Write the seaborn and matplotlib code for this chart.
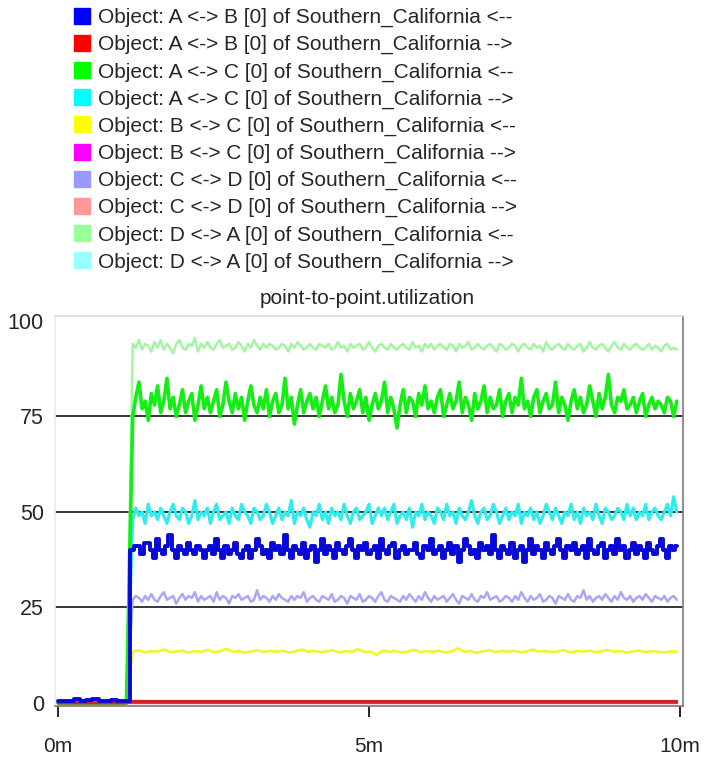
import numpy as np
import pandas as pd
import matplotlib
matplotlib.use("Agg")
import matplotlib.pyplot as plt
import seaborn as sns
from matplotlib.lines import Line2D
from matplotlib import font_manager

sns.set_theme(style="white")
avail = {f.name for f in font_manager.fontManager.ttflist}
FONT = "Liberation Sans" if "Liberation Sans" in avail else "DejaVu Sans"
plt.rcParams["font.family"] = [FONT, "DejaVu Sans"]

# ---------------- data ----------------
labels = [
    "Object: A <-> B [0] of Southern_California <--",
    "Object: A <-> B [0] of Southern_California -->",
    "Object: A <-> C [0] of Southern_California <--",
    "Object: A <-> C [0] of Southern_California -->",
    "Object: B <-> C [0] of Southern_California <--",
    "Object: B <-> C [0] of Southern_California -->",
    "Object: C <-> D [0] of Southern_California <--",
    "Object: C <-> D [0] of Southern_California -->",
    "Object: D <-> A [0] of Southern_California <--",
    "Object: D <-> A [0] of Southern_California -->",
]
colors = ["#0000ff", "#ff0000", "#00ff00", "#00ffff", "#ffff00",
          "#ff00ff", "#9999ff", "#ff9999", "#99ff99", "#99ffff"]
line_colors = ["#0808d8", "#d42020", "#14ee14", "#30ecec", "#f4f420",
               "#ff00ff", "#a8a8f4", "#ff9999", "#a4f4a4", "#99ffff"]

t_start = 1.2     # minutes, traffic begins
t_end = 9.95

blue_pre = [0.5, 0.6, 0.5, 1.0, 0.5, 0.7, 1.0, 0.5, 0.6, 0.9, 0.5, 0.5]
blue_post = [
    40, 41, 41, 39, 42, 42, 40, 38, 43, 40, 39, 41, 44, 40, 38, 41, 40, 39, 42, 40,
    39, 41, 40, 38, 40, 41, 39, 43, 40, 38, 41, 39, 40, 42, 39, 38, 40, 41, 38, 40,
    43, 41, 39, 40, 38, 42, 40, 41, 39, 44, 40, 38, 41, 40, 39, 42, 38, 40, 41, 37,
    40, 43, 39, 41, 40, 38, 42, 40, 39, 41, 43, 40, 38, 41, 40, 42, 39, 40, 41, 38,
    43, 40, 39, 41, 42, 38, 40, 41, 39, 40, 40, 42, 39, 38, 41, 40, 43, 39, 40, 41,
    38, 40, 42, 39, 41, 37, 40, 43, 41, 39, 40, 38, 42, 40, 41, 39, 44, 40, 38, 41,
    40, 39, 42, 38, 40, 41, 37, 40, 43, 39, 41, 40, 38, 42, 40, 39, 41, 43, 40, 38,
    41, 40, 42, 39, 40, 41, 38, 43, 40, 39, 41, 42, 38, 40, 41, 39, 43, 40, 41, 38,
    40, 42, 39, 41, 40, 38, 42, 40, 39, 41, 43, 40, 38, 41, 40, 41]
red_post = [0.4, 0.4]
green_post = [
    75, 80, 84, 77, 79, 74, 81, 78, 83, 76, 79, 85, 77, 80, 75, 78, 82, 76, 79, 81,
    74, 78, 83, 77, 80, 76, 79, 82, 75, 78, 84, 79, 76, 81, 77, 80, 74, 79, 83, 78,
    76, 80, 77, 82, 75, 79, 81, 76, 78, 85, 77, 80, 73, 78, 82, 76, 79, 81, 77, 80,
    75, 79, 83, 77, 80, 76, 78, 86, 79, 75, 81, 77, 79, 82, 76, 80, 74, 78, 81, 77,
    79, 84, 76, 80, 77, 72, 78, 82, 76, 80, 79, 75, 81, 78, 83, 77, 79, 76, 80, 82,
    75, 78, 81, 77, 79, 84, 76, 80, 78, 74, 81, 77, 79, 83, 76, 80, 77, 78, 82, 75,
    79, 81, 76, 80, 78, 85, 77, 79, 75, 80, 82, 76, 79, 81, 77, 78, 84, 76, 80, 78,
    74, 79, 82, 77, 80, 76, 78, 83, 79, 75, 81, 77, 80, 86, 78, 76, 80, 79, 82, 77,
    78, 80, 76, 79, 81, 75, 78, 80, 77, 79, 78, 76, 80, 79, 75, 79]
cyan_post = [
    48, 51, 49, 50, 47, 52, 49, 50, 48, 51, 49, 47, 50, 52, 49, 48, 51, 50, 47, 49,
    53, 48, 50, 49, 51, 47, 50, 52, 48, 49, 50, 47, 51, 49, 48, 52, 50, 49, 47, 51,
    50, 48, 49, 52, 50, 47, 49, 51, 48, 50, 49, 53, 47, 50, 49, 51, 48, 46, 50, 49,
    52, 48, 50, 47, 51, 49, 50, 48, 52, 49, 47, 50, 51, 48, 49, 50, 52, 47, 49, 51,
    49, 51, 48, 50, 52, 47, 49, 50, 48, 51, 46, 50, 49, 52, 48, 50, 49, 47, 51, 50,
    48, 52, 49, 50, 47, 51, 49, 48, 50, 53, 49, 47, 50, 51, 48, 49, 52, 50, 47, 49,
    51, 48, 50, 49, 52, 47, 50, 49, 51, 48, 50, 47, 49, 52, 50, 48, 51, 49, 47, 50,
    49, 52, 48, 50, 47, 51, 49, 50, 48, 52, 49, 47, 51, 50, 48, 49, 51, 50, 48, 52,
    49, 51, 48, 50, 49, 52, 48, 50, 51, 49, 48, 50, 52, 49, 54, 50]
yellow_post = [
    13.5, 13.8, 13.2, 13.6, 13.4, 14, 13.3, 13.5, 13.7, 13.2, 13.6, 13.4, 13.9, 13.3, 13.5,
    14.2, 13.4, 13.6, 13.1, 13.5, 13.8, 13.3, 13.6, 13.4, 13.7, 13.2, 13.5, 14, 13.4, 13.6,
    13.3, 13.5, 13.8, 13.2, 13.6, 13.4, 14.1, 13.3, 13.5, 12.6, 13.7, 13.4, 13.6, 13.2, 13.5,
    13.9, 13.3, 13.6, 13.4, 13.7, 13.2, 13.5, 14.3, 13.4, 13.6, 13.1, 13.5, 13.8, 13.3, 13.6,
    13.4, 13.7, 13.2, 13.5, 14, 13.4, 13.6, 13.3, 13.5, 13.8, 13.2, 13.6, 13.4, 13.7, 13.3,
    13.5, 13.9, 13.4, 13.6, 13.2, 13.5, 13.7, 13.3, 13.6, 13.4, 13.2, 13.5, 13.4]
magenta_post = [0.0, 0.0]
lavender_post = [
    27, 28, 27.5, 26.5, 28, 27, 28.5, 27, 26.5, 28, 29, 27, 27.5, 28, 26, 27.5, 28.5, 27, 28, 27.5,
    29, 26.5, 28, 27, 27.5, 28, 26.5, 29, 27, 28, 27.5, 26, 28, 27.5, 28.5, 27, 27.5, 28, 26.5, 27,
    29.5, 27, 28, 27.5, 26.5, 28, 27, 28.5, 27.5, 27, 26.5, 28, 27, 28, 27.5, 29, 26.5, 27.5, 28, 27,
    26.5, 28, 27.5, 27, 28.5, 26.5, 27, 28, 27.5, 26, 28, 27.5, 27, 28.5, 26.5, 27, 28, 27.5, 26.5, 28,
    29, 27, 26.5, 28, 27.5, 27, 26.5, 28, 27, 28.5, 27.5, 26.5, 28, 27, 29, 27.5, 26.5, 28, 27, 27.5,
    28, 26.5, 27.5, 28.5, 27, 26, 28, 27.5, 27, 28.5, 27, 26.5, 28, 27.5, 29, 27, 27.5, 28, 26.5, 27,
    28, 27.5, 26.5, 28, 27, 29, 27.5, 26.5, 28, 27, 27.5, 28.5, 26.5, 27, 28, 27.5, 26, 28, 27.5, 27,
    28.5, 27, 26.5, 28, 27.5, 29.5, 27, 28, 26.5, 27.5, 28, 27, 28.5, 27.5, 26.5, 28, 27, 29, 27.5, 27,
    28, 26.5, 27.5, 28, 27, 28.5, 27.5, 26.5, 28, 27.5, 27, 28, 26.5, 27.5, 28, 27]
pink_post = [0.0, 0.0]
lightgreen_post = [
    94, 93, 95, 92.5, 94, 93.5, 92, 94.5, 93, 95, 92.5, 94, 93, 91.5, 94, 95, 93, 92.5, 94, 93.5,
    95.5, 92, 94, 93, 94.5, 93, 92.5, 94, 95, 93, 93.5, 94, 92.5, 93, 94.5, 93.5, 92, 94, 93, 95,
    93.5, 92.5, 94, 93, 94, 93.5, 92.5, 93, 94, 93.5, 92, 94, 93, 94.5, 93.5, 92.5, 93, 94, 93, 92.5,
    94, 93.5, 93, 94, 92.5, 93, 94.5, 93, 93.5, 92, 94, 93, 93.5, 94, 92.5, 93, 94.5, 93, 92, 93.5,
    94, 93, 92.5, 94, 93, 92.5, 93.5, 94, 93, 92.5, 94.5, 93, 93.5, 92, 94, 93, 94, 92.5, 93.5, 94,
    93, 92.5, 94, 93.5, 92, 94, 93, 93.5, 94.5, 92.5, 93, 94, 93, 92.5, 93.5, 94, 93, 92, 94, 93.5,
    92.5, 93, 94, 93.5, 92, 93.5, 94, 93, 92.5, 94, 93, 93.5, 92, 94.5, 93, 92.5, 93.5, 94, 93, 92.5,
    94, 93, 92.5, 93.5, 94, 92, 93, 94.5, 93, 92.5, 93.5, 94, 93, 92, 93.5, 94.5, 93, 92.5, 94, 93,
    92.5, 93.5, 94, 93, 92.5, 93, 94, 92.5, 93.5, 93, 92, 93.5, 94, 92.5, 93, 92.5]
lightcyan_post = [0.0, 0.0]

post_values = [blue_post, red_post, green_post, cyan_post, yellow_post,
               magenta_post, lavender_post, pink_post, lightgreen_post, lightcyan_post]
widths = [2.8, 2.2, 2.6, 2.3, 1.8, 1.6, 1.8, 1.6, 1.8, 1.6]
steps = [True, False, False, False, False, False, False, False, False, False]

frames = []
for i, (lab, post) in enumerate(zip(labels, post_values)):
    if i == 0:
        pre_t = np.linspace(0, t_start - 0.1, len(blue_pre))
        pre_v = blue_pre
    else:
        pre_t = [0.0, t_start - 0.1]
        pre_v = [0.0, 0.0]
    post_t = np.linspace(t_start, t_end, len(post))
    frames.append(pd.DataFrame({
        "time": np.concatenate([pre_t, post_t]),
        "util": np.concatenate([pre_v, post]),
        "series": lab,
    }))
df = pd.concat(frames, ignore_index=True)

# ---------------- figure ----------------
W, H = 704, 762
fig = plt.figure(figsize=(W / 100, H / 100), dpi=100)
ax = fig.add_axes([55 / W, 1 - 706 / H, (683 - 55) / W, (706 - 316) / H])

for y in (25, 50, 75):
    ax.axhline(y, color="black", lw=1.1, zorder=1)

for i in reversed(range(len(labels))):
    sub = df[df["series"] == labels[i]]
    sns.lineplot(data=sub, x="time", y="util", ax=ax, color=line_colors[i],
                 lw=widths[i], legend=False, zorder=10 - i, estimator=None,
                 drawstyle="steps-mid" if steps[i] else "default")

ax.set_xlim(-0.05, 10.05)
ax.set_ylim(-0.8, 101.3)
ax.set_xticks([0, 5, 10])
ax.set_xticklabels(["0m", "5m", "10m"])
ax.set_yticks([0, 25, 50, 75, 100])
ax.set_yticklabels(["0", "25", "50", "75", "100"])
ax.set_xlabel("")
ax.set_ylabel("")
ax.tick_params(axis="x", direction="out", length=8, width=1.2, color="black",
               pad=14, labelsize=15, bottom=True)
ax.tick_params(axis="y", length=0, pad=8, labelsize=15.5)

for side, col in (("top", "#dcdcdc"), ("left", "#ececec"),
                  ("right", "#7a7a7a"), ("bottom", "#8a7070")):
    ax.spines[side].set_visible(True)
    ax.spines[side].set_color(col)
    ax.spines[side].set_linewidth(1.2)

fig.text(367 / W, 1 - 298 / H, "point-to-point.utilization", ha="center",
         va="center", fontsize=15)

handles = [Line2D([0], [0], marker="s", color="none", markerfacecolor=c,
                  markeredgecolor=c, markersize=11.5) for c in colors]
fig.legend(handles, labels, loc="upper left", bbox_to_anchor=(72 / W, 1 - 8 / H),
           frameon=False, fontsize=15, handlelength=1.0, handletextpad=0.25,
           labelspacing=0.38, borderaxespad=0, borderpad=0)

fig.savefig("out.png", dpi=100)
